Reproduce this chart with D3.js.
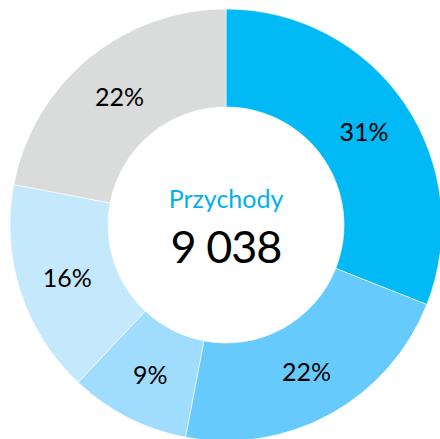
<!DOCTYPE html>
<html><head><meta charset="utf-8">
<script src="https://cdn.jsdelivr.net/npm/d3@7/dist/d3.min.js"></script>
<style>html,body{margin:0;padding:0;background:#fff;}</style>
</head><body>
<svg id="c" width="440" height="439"></svg>
<script>
const categories = ["A", "B", "C", "D", "E"];
const values = [31, 22, 9, 16, 22];
const labels = ["31%", "22%", "9%", "16%", "22%"];
const colors = ["#00B9F5", "#66CAFD", "#9FDCFD", "#C4E9FC", "#DADBDB"];
const title = "Przychody";
const total = "9 038";

const svg = d3.select("#c");
const cx = 226, cy = 225, rOuter = 216, rInner = 118;
const g = svg.append("g").attr("transform", `translate(${cx},${cy})`);
const pie = d3.pie().sort(null).value(d => d)(values);
const arc = d3.arc().innerRadius(rInner).outerRadius(rOuter);
g.selectAll("path").data(pie).join("path")
  .attr("d", arc)
  .attr("fill", (d, i) => colors[i])
  .attr("stroke", "#fff").attr("stroke-width", 0.6);
g.selectAll("text.lbl").data(pie).join("text")
  .attr("class", "lbl")
  .attr("transform", d => `translate(${arc.centroid(d)})`)
  .attr("text-anchor", "middle")
  .attr("dominant-baseline", "central")
  .attr("font-family", "Lato, sans-serif")
  .attr("font-size", 25)
  .attr("fill", "#000")
  .text((d, i) => labels[i]);
g.append("text").attr("x", 0).attr("y", 208 - cy)
  .attr("text-anchor", "middle").attr("font-family", "Lato, sans-serif")
  .attr("font-size", 25).attr("fill", "#00B0F0").text(title);
g.append("text").attr("x", 0).attr("y", 263 - cy)
  .attr("text-anchor", "middle").attr("font-family", "Lato, sans-serif")
  .attr("font-size", 45).attr("letter-spacing", -1).attr("fill", "#000").text(total);
</script>
</body></html>
